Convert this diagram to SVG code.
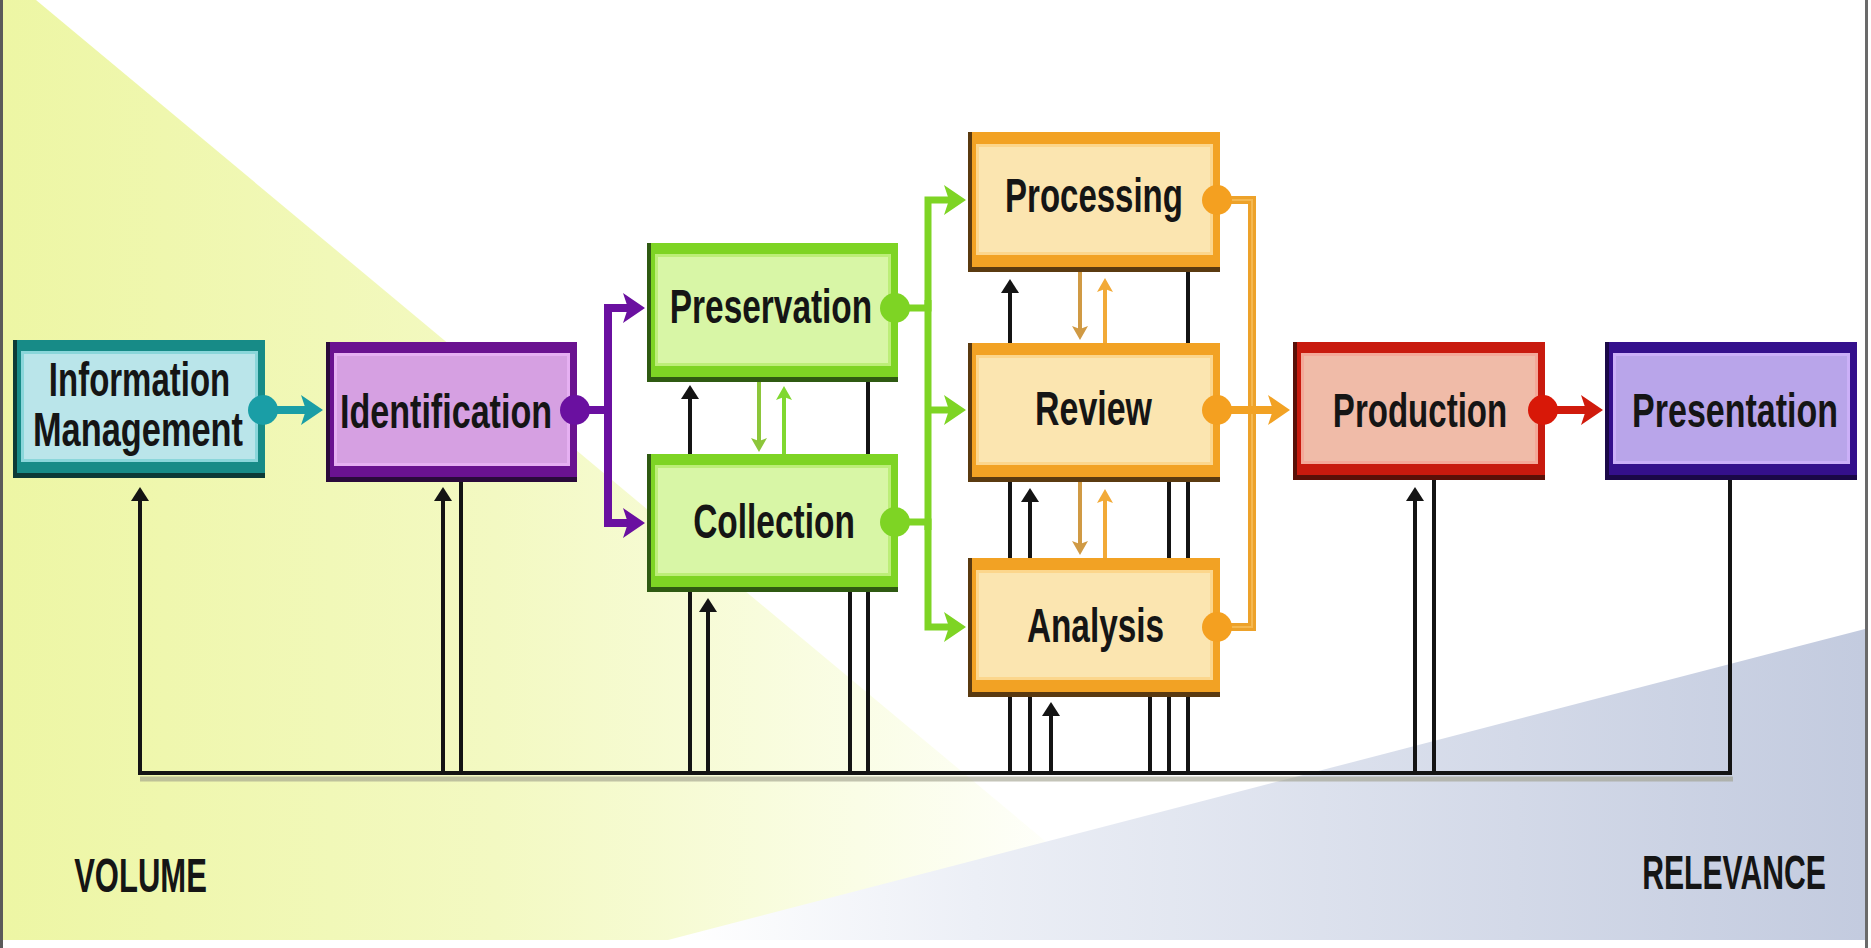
<svg xmlns="http://www.w3.org/2000/svg" width="1871" height="948" viewBox="0 0 1871 948">
<style>
.lbl{font-family:"Liberation Sans",Arial,sans-serif;font-weight:bold;font-size:49px;fill:#151515;text-anchor:middle}
.blk{fill:none;stroke:#141414;stroke-width:4}
.teal .o{fill:#178b87}.teal .l{fill:#8ad6da}.teal .f{fill:#bae5ea}.teal .s{fill:#0c3a36}
.purp .o{fill:#6a1290}.purp .l{fill:#e6b0f2}.purp .f{fill:#d6a0e2}.purp .s{fill:#2a0a3a}
.grn .o{fill:#7ed424}.grn .l{fill:#bcee78}.grn .f{fill:#d8f6a6}.grn .s{fill:#2f5a12}
.org .o{fill:#f2a224}.org .l{fill:#fcd68c}.org .f{fill:#fbe5b0}.org .s{fill:#5a3a10}
.red .o{fill:#c81a0e}.red .l{fill:#f4a898}.red .f{fill:#f0bba8}.red .s{fill:#5a1008}
.ind .o{fill:#34108c}.ind .l{fill:#cbb0f8}.ind .f{fill:#b9a5ea}.ind .s{fill:#1a0848}
</style>
<defs>
<linearGradient id="gy" gradientUnits="userSpaceOnUse" x1="0" y1="0" x2="1100" y2="0">
<stop offset="0" stop-color="#edf6a4"/><stop offset="0.45" stop-color="#f3f9c2"/><stop offset="0.78" stop-color="#fafde6"/><stop offset="1" stop-color="#ffffff"/>
</linearGradient>
<linearGradient id="gb" gradientUnits="userSpaceOnUse" x1="680" y1="0" x2="1863" y2="0">
<stop offset="0" stop-color="#ffffff"/><stop offset="0.25" stop-color="#eceff6"/><stop offset="1" stop-color="#c3cbdf"/>
</linearGradient>
<marker id="ab" markerUnits="userSpaceOnUse" viewBox="0 0 14 18" markerWidth="14" markerHeight="18" refX="4" refY="9" orient="auto"><path d="M0,0 L14,9 L0,18 Z" fill="#141414"/></marker>
<marker id="at" markerUnits="userSpaceOnUse" viewBox="0 0 22 32" markerWidth="22" markerHeight="32" refX="8" refY="16" orient="auto"><path d="M0,1 L22,16 L0,31 L5,16 Z" fill="#1a9ea6"/></marker>
<marker id="ap" markerUnits="userSpaceOnUse" viewBox="0 0 22 32" markerWidth="22" markerHeight="32" refX="8" refY="16" orient="auto"><path d="M0,1 L22,16 L0,31 L5,16 Z" fill="#6a10a0"/></marker>
<marker id="ag" markerUnits="userSpaceOnUse" viewBox="0 0 22 32" markerWidth="22" markerHeight="32" refX="8" refY="16" orient="auto"><path d="M0,1 L22,16 L0,31 L5,16 Z" fill="#7ed424"/></marker>
<marker id="ao" markerUnits="userSpaceOnUse" viewBox="0 0 22 32" markerWidth="22" markerHeight="32" refX="8" refY="16" orient="auto"><path d="M0,1 L22,16 L0,31 L5,16 Z" fill="#f2a224"/></marker>
<marker id="ar" markerUnits="userSpaceOnUse" viewBox="0 0 22 32" markerWidth="22" markerHeight="32" refX="8" refY="16" orient="auto"><path d="M0,1 L22,16 L0,31 L5,16 Z" fill="#d01a0c"/></marker>
<marker id="sg1" markerUnits="userSpaceOnUse" viewBox="0 0 14 16" markerWidth="14" markerHeight="16" refX="4" refY="8" orient="auto"><path d="M0,0 L14,8 L0,16 L3,8 Z" fill="#8cc63a"/></marker>
<marker id="sg2" markerUnits="userSpaceOnUse" viewBox="0 0 14 16" markerWidth="14" markerHeight="16" refX="4" refY="8" orient="auto"><path d="M0,0 L14,8 L0,16 L3,8 Z" fill="#80d830"/></marker>
<marker id="so1" markerUnits="userSpaceOnUse" viewBox="0 0 14 16" markerWidth="14" markerHeight="16" refX="4" refY="8" orient="auto"><path d="M0,0 L14,8 L0,16 L3,8 Z" fill="#d09a44"/></marker>
<marker id="so2" markerUnits="userSpaceOnUse" viewBox="0 0 14 16" markerWidth="14" markerHeight="16" refX="4" refY="8" orient="auto"><path d="M0,0 L14,8 L0,16 L3,8 Z" fill="#f2aa38"/></marker>
</defs>

<g id="background">
<rect x="0" y="0" width="1871" height="948" fill="#ffffff"/>
<polygon points="3,0 36,0 1164,940 3,940" fill="url(#gy)"/>
<polygon points="668,940 1865,629 1865,940" fill="url(#gb)"/>
<rect x="0" y="0" width="3" height="948" fill="#5a5a5a"/>
<rect x="1865" y="0" width="3" height="948" fill="#6a6a6a"/>
<text class="lbl" transform="translate(140.5,892) scale(0.66,1)" textLength="201" lengthAdjust="spacingAndGlyphs">VOLUME</text>
<text class="lbl" transform="translate(1734,889) scale(0.64,1)" textLength="287" lengthAdjust="spacingAndGlyphs">RELEVANCE</text>
</g>

<g id="n-information-management" class="teal">
<rect class="o" x="13" y="340" width="252" height="138"/>
<rect class="s" x="13" y="340" width="4" height="138"/><rect class="s" x="13" y="473" width="252" height="5"/>
<rect class="l" x="21" y="351" width="237" height="111"/>
<rect class="f" x="24" y="354" width="231" height="105"/>
<text class="lbl" transform="translate(139.5,396) scale(0.7,1)" textLength="259" lengthAdjust="spacingAndGlyphs">Information</text>
<text class="lbl" transform="translate(138,446) scale(0.7,1)" textLength="300" lengthAdjust="spacingAndGlyphs">Management</text>
</g>

<g id="n-identification" class="purp">
<rect class="o" x="326" y="342" width="251" height="140"/>
<rect class="s" x="326" y="342" width="4" height="140"/><rect class="s" x="326" y="477" width="251" height="5"/>
<rect class="l" x="334" y="353" width="236" height="113"/>
<rect class="f" x="337" y="356" width="230" height="107"/>
<text class="lbl" transform="translate(446,428) scale(0.7,1)" textLength="303" lengthAdjust="spacingAndGlyphs">Identification</text>
</g>

<g id="n-preservation" class="grn">
<rect class="o" x="647" y="243" width="251" height="139"/>
<rect class="s" x="647" y="243" width="4" height="139"/><rect class="s" x="647" y="377" width="251" height="5"/>
<rect class="l" x="655" y="254" width="236" height="112"/>
<rect class="f" x="658" y="257" width="230" height="106"/>
<text class="lbl" transform="translate(771,323) scale(0.7,1)" textLength="289" lengthAdjust="spacingAndGlyphs">Preservation</text>
</g>

<g id="n-collection" class="grn">
<rect class="o" x="647" y="454" width="251" height="138"/>
<rect class="s" x="647" y="454" width="4" height="138"/><rect class="s" x="647" y="587" width="251" height="5"/>
<rect class="l" x="655" y="465" width="236" height="111"/>
<rect class="f" x="658" y="468" width="230" height="105"/>
<text class="lbl" transform="translate(774,538) scale(0.7,1)" textLength="231" lengthAdjust="spacingAndGlyphs">Collection</text>
</g>

<g id="n-processing" class="org">
<rect class="o" x="968" y="132" width="252" height="140"/>
<rect class="s" x="968" y="132" width="4" height="140"/><rect class="s" x="968" y="267" width="252" height="5"/>
<rect class="l" x="976" y="144" width="237" height="111"/>
<rect class="f" x="979" y="147" width="231" height="105"/>
<text class="lbl" transform="translate(1094,212) scale(0.7,1)" textLength="254" lengthAdjust="spacingAndGlyphs">Processing</text>
</g>

<g id="n-review" class="org">
<rect class="o" x="968" y="343" width="252" height="139"/>
<rect class="s" x="968" y="343" width="4" height="139"/><rect class="s" x="968" y="477" width="252" height="5"/>
<rect class="l" x="976" y="355" width="237" height="110"/>
<rect class="f" x="979" y="358" width="231" height="104"/>
<text class="lbl" transform="translate(1093.5,425) scale(0.7,1)" textLength="167" lengthAdjust="spacingAndGlyphs">Review</text>
</g>

<g id="n-analysis" class="org">
<rect class="o" x="968" y="558" width="252" height="139"/>
<rect class="s" x="968" y="558" width="4" height="139"/><rect class="s" x="968" y="692" width="252" height="5"/>
<rect class="l" x="976" y="570" width="237" height="110"/>
<rect class="f" x="979" y="573" width="231" height="104"/>
<text class="lbl" transform="translate(1095.5,642) scale(0.7,1)" textLength="196" lengthAdjust="spacingAndGlyphs">Analysis</text>
</g>

<g id="n-production" class="red">
<rect class="o" x="1293" y="342" width="252" height="138"/>
<rect class="s" x="1293" y="342" width="4" height="138"/><rect class="s" x="1293" y="475" width="252" height="5"/>
<rect class="l" x="1301" y="353" width="237" height="111"/>
<rect class="f" x="1304" y="356" width="231" height="105"/>
<text class="lbl" transform="translate(1420,427) scale(0.7,1)" textLength="249" lengthAdjust="spacingAndGlyphs">Production</text>
</g>

<g id="n-presentation" class="ind">
<rect class="o" x="1605" y="342" width="252" height="138"/>
<rect class="s" x="1605" y="342" width="4" height="138"/><rect class="s" x="1605" y="475" width="252" height="5"/>
<rect class="l" x="1613" y="353" width="237" height="111"/>
<rect class="f" x="1616" y="356" width="231" height="105"/>
<text class="lbl" transform="translate(1735,427) scale(0.7,1)" textLength="294" lengthAdjust="spacingAndGlyphs">Presentation</text>
</g>

<g id="connectors">
<path d="M140 779 H1733" stroke="#9c9c88" stroke-width="5" opacity="0.6" fill="none"/>
<path class="blk" d="M138 773 H1732" stroke-width="5"/>
<path class="blk" d="M140 775 V497" marker-end="url(#ab)"/>
<path class="blk" d="M443 775 V497" marker-end="url(#ab)"/>
<path class="blk" d="M461 482 V775"/>
<path class="blk" d="M690 775 V592"/>
<path class="blk" d="M690 454 V395" marker-end="url(#ab)"/>
<path class="blk" d="M708 775 V608" marker-end="url(#ab)"/>
<path class="blk" d="M850 592 V775"/>
<path class="blk" d="M868 382 V454 M868 592 V775"/>
<path class="blk" d="M1010 775 V697 M1010 558 V482"/>
<path class="blk" d="M1010 343 V289" marker-end="url(#ab)"/>
<path class="blk" d="M1030 775 V697"/>
<path class="blk" d="M1030 558 V498" marker-end="url(#ab)"/>
<path class="blk" d="M1051 775 V712" marker-end="url(#ab)"/>
<path class="blk" d="M1150 697 V775"/>
<path class="blk" d="M1169 482 V558 M1169 697 V775"/>
<path class="blk" d="M1188 272 V343 M1188 482 V558 M1188 697 V775"/>
<path class="blk" d="M1415 775 V497" marker-end="url(#ab)"/>
<path class="blk" d="M1434 480 V775"/>
<path class="blk" d="M1730 480 V775"/>
<path d="M263 410 H309" stroke="#1a9ea6" stroke-width="8" fill="none" marker-end="url(#at)"/>
<circle cx="263" cy="410" r="15" fill="#1a9ea6"/>
<path d="M575 410 H608 V308 H631" stroke="#6a10a0" stroke-width="8" fill="none" marker-end="url(#ap)"/>
<path d="M608 410 V523 H631" stroke="#6a10a0" stroke-width="8" fill="none" marker-end="url(#ap)"/>
<circle cx="575" cy="410" r="15" fill="#6a10a0"/>
<path d="M895 308 H928 V200 H952" stroke="#7ed424" stroke-width="7" fill="none" marker-end="url(#ag)"/>
<path d="M895 522 H928 V627 H952" stroke="#7ed424" stroke-width="7" fill="none" marker-end="url(#ag)"/>
<path d="M928 300 V530" stroke="#7ed424" stroke-width="7" fill="none"/>
<path d="M928 410 H952" stroke="#7ed424" stroke-width="7" fill="none" marker-end="url(#ag)"/>
<circle cx="895" cy="308" r="15" fill="#7ed424"/>
<circle cx="895" cy="522" r="15" fill="#7ed424"/>
<path d="M759 382 V442" stroke="#8cc63a" stroke-width="4" fill="none" marker-end="url(#sg1)"/>
<path d="M784 454 V396" stroke="#80d830" stroke-width="4" fill="none" marker-end="url(#sg2)"/>
<path d="M1217 200 H1252 V627 H1217" stroke="#eda22a" stroke-width="8" fill="none"/>
<path d="M1217 200 H1252 V627 H1217" stroke="#f5b850" stroke-width="2" fill="none"/>
<path d="M1217 410 H1276" stroke="#f2a224" stroke-width="8" fill="none" marker-end="url(#ao)"/>
<circle cx="1217" cy="200" r="15" fill="#f4a020"/>
<circle cx="1217" cy="410" r="15" fill="#f4a020"/>
<circle cx="1217" cy="627" r="15" fill="#f4a020"/>
<path d="M1080 272 V330" stroke="#d09a44" stroke-width="4" fill="none" marker-end="url(#so1)"/>
<path d="M1105 343 V288" stroke="#f2aa38" stroke-width="4" fill="none" marker-end="url(#so2)"/>
<path d="M1080 482 V545" stroke="#d09a44" stroke-width="4" fill="none" marker-end="url(#so1)"/>
<path d="M1105 558 V499" stroke="#f2aa38" stroke-width="4" fill="none" marker-end="url(#so2)"/>
<path d="M1543 410 H1589" stroke="#d01a0c" stroke-width="8" fill="none" marker-end="url(#ar)"/>
<circle cx="1543" cy="410" r="15" fill="#d81808"/>
</g>
</svg>
